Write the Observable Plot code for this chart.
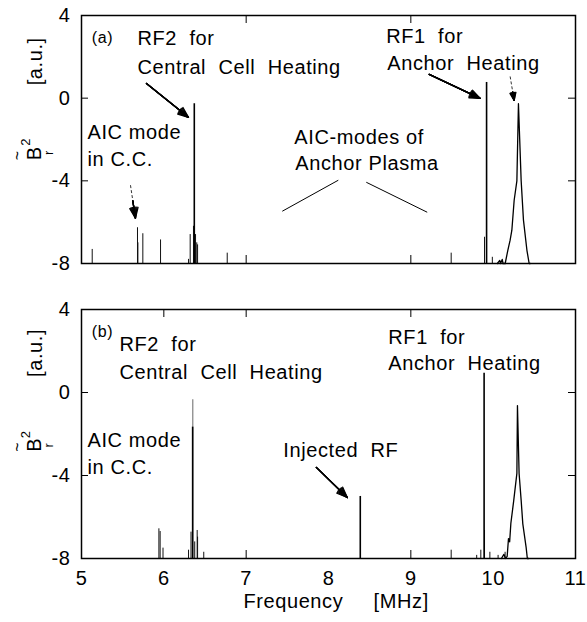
<!DOCTYPE html>
<html><head><meta charset="utf-8">
<script src="https://cdn.jsdelivr.net/npm/d3@7"></script>
<script src="https://cdn.jsdelivr.net/npm/@observablehq/plot@0.6"></script>
<style>
body{margin:0;background:#fff;}
#chart svg{display:block;}
#chart svg text{letter-spacing:0.6px;}
</style></head><body><div id="chart"></div>
<script>
// ---------- data ----------
const xTickValues = [5, 6, 7, 8, 9, 10, 11];
const yTickValues = [4, 0, -4, -8];

// panel (a): narrow spectral lines (MHz, log amplitude)
const spikeFreqA = [5.13, 5.68, 5.685, 5.745, 5.96, 6.30, 6.32, 6.36, 6.385, 6.40, 6.41, 6.77, 9.49, 9.895, 9.99];
const spikeValA  = [-7.32, -6.27, -7.0, -6.56, -6.86, -7.8, -6.6, -6.2, -6.6, -7.0, -7.1, -7.5, -7.5, -6.73, -7.7];
const mainFreqA = [6.37, 9.92];
const mainValA  = [-0.27, 0.76];
// panel (a): broad RF1 peak
const peakFreqA = [10.05, 10.08, 10.09, 10.11, 10.12, 10.146, 10.178, 10.206, 10.227, 10.255, 10.288, 10.307, 10.34, 10.368, 10.41, 10.437, 10.45];
const peakValA  = [-8, -7.85, -8, -7.8, -8, -8, -7.36, -6.87, -6.39, -4.94, -4.0, -0.27, -4.0, -5.9, -7.36, -8, -8];

// panel (b)
const spikeFreqB = [5.94, 5.955, 5.99, 6.30, 6.33, 6.375, 6.405, 6.41, 6.485, 9.49, 9.80, 9.85, 9.895, 9.96, 10.06, 10.145];
const spikeValB  = [-6.57, -6.7, -7.5, -7.6, -6.73, -7.2, -6.65, -6.97, -7.7, -7.6, -7.85, -7.6, -6.65, -7.7, -7.85, -7.7];
const mainFreqB = [6.35, 8.386, 9.89];
const mainValB  = [-1.67, -5.01, 0.93];
const tipFreqB = [6.352];
const tipValB  = [-0.35];
const peakFreqB = [10.10, 10.13, 10.15, 10.17, 10.186, 10.2, 10.215, 10.25, 10.288, 10.295, 10.315, 10.34, 10.36, 10.40, 10.415, 10.43];
const peakValB  = [-8, -7.8, -8, -7.9, -7.04, -7.2, -6.3, -5.2, -3.9, -0.63, -3.9, -5.2, -6.33, -7.45, -8, -8];

// annotations (text, anchored in data coordinates)
const notesA = [
  {t: "RF2\u00a0\u00a0for", x: 5.68, y: 2.89},
  {t: "Central\u00a0\u00a0Cell\u00a0\u00a0Heating", x: 5.68, y: 1.49},
  {t: "AIC mode", x: 5.073, y: -1.65},
  {t: "in C.C.", x: 5.073, y: -2.96},
  {t: "AIC-modes of", x: 7.585, y: -1.89},
  {t: "Anchor Plasma", x: 7.597, y: -3.15},
  {t: "RF1\u00a0\u00a0for", x: 8.70, y: 2.99},
  {t: "Anchor\u00a0\u00a0Heating", x: 8.714, y: 1.68}
];
const notesB = [
  {t: "RF2\u00a0\u00a0for", x: 5.461, y: 2.31},
  {t: "Central\u00a0\u00a0Cell\u00a0\u00a0Heating", x: 5.461, y: 0.96},
  {t: "AIC mode", x: 5.073, y: -2.31},
  {t: "in C.C.", x: 5.073, y: -3.61},
  {t: "Injected\u00a0\u00a0RF", x: 7.451, y: -2.80},
  {t: "RF1\u00a0\u00a0for", x: 8.726, y: 2.65},
  {t: "Anchor\u00a0\u00a0Heating", x: 8.726, y: 1.40}
];
const arrowsA = [
  {x1: 5.789, y1: 0.715, x2: 6.299, y2: -0.928, dash: false},
  {x1: 5.595, y1: -4.21, x2: 5.655, y2: -5.81, dash: true},
  {x1: 9.223, y1: 1.15, x2: 9.842, y2: -0.01, dash: false},
  {x1: 10.206, y1: 1.05, x2: 10.255, y2: -0.106, dash: true}
];
const linksA = [
  {x1: 7.439, y1: -5.47, x2: 8.119, y2: -3.97},
  {x1: 8.459, y1: -4.07, x2: 9.199, y2: -5.52}
];
const arrowsB = [
  {x1: 7.852, y1: -3.61, x2: 8.228, y2: -5.06, dash: false}
];

// ---------- drawing ----------
const FONT = "Liberation Sans, Arial, Helvetica, sans-serif";
const W = 587, ML = 81, MR = 12;
const toRows = (f, v) => f.map((d, i) => ({f: d, v: v[i]}));

// filled-looking arrowheads: stack arrows with shrinking head angles
function arrowMarks(arrows) {
  const solid = arrows.filter(d => !d.dash), dashed = arrows.filter(d => d.dash);
  const out = [
    Plot.link(dashed, {x1: "x1", y1: "y1", x2: "x2", y2: "y2", stroke: "#333", strokeWidth: 1, strokeDasharray: "3,2"})
  ];
  for (const a of [44, 34, 24, 14, 4]) {
    out.push(Plot.arrow(solid, {x1: "x1", y1: "y1", x2: "x2", y2: "y2", stroke: "black", strokeWidth: 1.3, headLength: 13, headAngle: a}));
    out.push(Plot.arrow(dashed, {x1: "x1", y1: "y1", x2: "x2", y2: "y2", stroke: "black", strokeWidth: 1.3, headLength: 13, headAngle: a, insetStart: 16}));
  }
  return out;
}

function panel({height, mt, mb, tag, tagY, spikes, mains, tips, peak, notes, arrows, links, topTicks, bottomTicks, showX, lab}) {
  const fh = height - mt - mb, fw = W - ML - MR;
  const marks = [
    Plot.ruleX(spikes, {x: "f", y1: -8, y2: "v", stroke: "#111", strokeWidth: 1}),
    Plot.ruleX(tips, {x: "f", y1: -8, y2: "v", stroke: "#666", strokeWidth: 1}),
    Plot.ruleX(mains, {x: "f", y1: -8, y2: "v", stroke: "black", strokeWidth: 1.6}),
    Plot.line(peak, {x: "f", y: "v", stroke: "black", strokeWidth: 1.3}),
    Plot.tickX(topTicks, {x: d => d, insetBottom: fh - 8, stroke: "black"}),
    Plot.tickX(bottomTicks, {x: d => d, insetTop: fh - 8, stroke: "black"}),
    Plot.tickY([0, -4], {y: d => d, insetRight: fw - 7, stroke: "black"}),
    Plot.tickY([0, -4], {y: d => d, insetLeft: fw - 7, stroke: "black"}),
    Plot.frame({stroke: "black", strokeWidth: 1.5}),
    Plot.axisY({ticks: yTickValues, tickSize: 0, tickPadding: 11, fontSize: 20, tickFormat: d => String(d), label: null}),
    Plot.text([tag], {x: 5.125, y: tagY, text: d => d, textAnchor: "start", fontSize: 16, fill: "black"}),
    Plot.text(notes, {x: "x", y: "y", text: "t", textAnchor: "start", fontSize: 20, fill: "black"}),
    Plot.link(links, {x1: "x1", y1: "y1", x2: "x2", y2: "y2", stroke: "black", strokeWidth: 1}),
    ...arrowMarks(arrows),
    // y axis label: B~ r^2 [a.u.]
    Plot.text(["[a.u.]"], {frameAnchor: "left", y: lab.unit, dx: -46, rotate: -90, text: d => d, fontSize: 20, fill: "black"}),
    Plot.text(["B"], {frameAnchor: "left", y: lab.b, dx: -47, rotate: -90, text: d => d, fontSize: 20, fill: "black"}),
    Plot.text(["~"], {frameAnchor: "left", y: lab.b, dx: -64, rotate: -90, text: d => d, fontSize: 16, fill: "black"}),
    Plot.text(["2"], {frameAnchor: "left", y: lab.sup, dx: -56, rotate: -90, text: d => d, fontSize: 13, fill: "black"}),
    Plot.text(["r"], {frameAnchor: "left", y: lab.sub, dx: -33, rotate: -90, text: d => d, fontSize: 13, fill: "black"})
  ];
  if (showX) {
    marks.push(Plot.axisX({ticks: xTickValues, tickSize: 0, tickPadding: 12, fontSize: 20, tickFormat: d => String(d), label: null}));
    marks.push(Plot.text(["Frequency"], {x: 7.573, frameAnchor: "bottom", dy: 49, text: d => d, fontSize: 20, fill: "black"}));
    marks.push(Plot.text(["[MHz]"], {x: 8.883, frameAnchor: "bottom", dy: 49, text: d => d, fontSize: 20, fill: "black"}));
  }
  return Plot.plot({
    width: W, height,
    marginLeft: ML, marginRight: MR, marginTop: mt, marginBottom: mb,
    style: {fontFamily: FONT, color: "black", background: "white", overflow: "visible"},
    x: {domain: [5, 11], axis: null},
    y: {domain: [-8, 4], axis: null},
    marks
  });
}

const chart = document.getElementById("chart");
chart.append(panel({
  height: 290, mt: 15, mb: 27, tag: "(a)", tagY: 2.94,
  spikes: toRows(spikeFreqA, spikeValA), mains: toRows(mainFreqA, mainValA), tips: [],
  peak: toRows(peakFreqA, peakValA), notes: notesA, arrows: arrowsA, links: linksA,
  topTicks: [7, 9], bottomTicks: [7, 9], showX: false,
  lab: {unit: 0.62, b: -3.0, sup: -2.3, sub: -2.75}
}));
chart.append(panel({
  height: 332, mt: 19, mb: 64, tag: "(b)", tagY: 2.94,
  spikes: toRows(spikeFreqB, spikeValB), mains: toRows(mainFreqB, mainValB), tips: toRows(tipFreqB, tipValB),
  peak: toRows(peakFreqB, peakValB), notes: notesB, arrows: arrowsB, links: [],
  topTicks: [6, 7, 9], bottomTicks: [7, 9], showX: true,
  lab: {unit: 0.75, b: -2.85, sup: -2.2, sub: -2.65}
}));
</script></body></html>
